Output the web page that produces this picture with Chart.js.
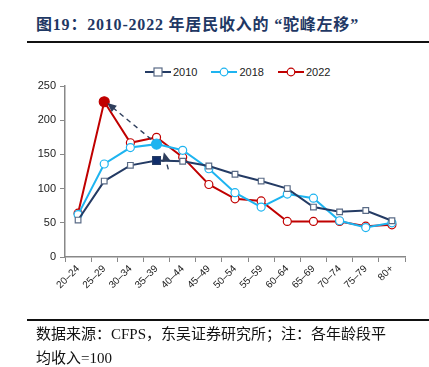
<!DOCTYPE html>
<html>
<head>
<meta charset="utf-8">
<script src="https://cdn.jsdelivr.net/npm/chart.js@4.4.1/dist/chart.umd.min.js"></script>
<style>
  html, body { margin: 0; padding: 0; background: #fff; }
  body { width: 429px; height: 367px; position: relative; overflow: hidden; }
  .title {
    position: absolute; left: 36px; top: 11px;
    font-family: "Liberation Serif", "Noto Sans CJK SC", serif;
    font-weight: bold; font-size: 16px; letter-spacing: 0.8px; color: #1F3864; white-space: nowrap;
  }
  .rule { position: absolute; left: 27px; right: 0; height: 2px; background: #111; }
  .legend {
    position: absolute; top: 66px; left: 145px;
    font-family: "Liberation Sans", Arial, sans-serif; font-size: 11px; color: #222;
    display: flex; gap: 14px; align-items: center;
  }
  .legend span { display: flex; align-items: center; }
  .legend canvas { margin-right: 2px; }
  .chart { position: absolute; left: 0; top: 62px; width: 429px; height: 255px; }
  .foot {
    position: absolute; left: 36px; top: 322px;
    font-family: "Liberation Serif", "Noto Sans CJK SC", serif;
    font-size: 15px; line-height: 24px; color: #111; white-space: nowrap;
  }
</style>
</head>
<body>
<div class="title">图19：2010-2022 年居民收入的 “驼峰左移”</div>
<div class="rule" style="top:41px"></div>
<div class="legend" id="legend"></div>
<div class="chart"><canvas id="c"></canvas></div>
<div class="rule" style="top:319px"></div>
<div class="foot">数据来源：CFPS，东吴证券研究所；注：各年龄段平<br>均收入=100</div>
<script>
const categories = ["20–24", "25–29", "30–34", "35–39", "40–44", "45–49", "50–54",
  "55–59", "60–64", "65–69", "70–74", "75–79", "80+"];
const seriesNames = ["2010", "2018", "2022"];
const income2010 = [54, 111, 134, 141, 140, 133, 121, 111, 100, 73, 66, 68, 53];
const income2018 = [62, 136, 160, 165, 156, 129, 94, 73, 92, 86, 53, 43, 50];
const income2022 = [64, 227, 167, 175, 146, 106, 85, 82, 52, 52, 52, 45, 47];
const peakIndex = [3, 3, 1];
const yTicks = [0, 50, 100, 150, 200, 250];
// dashed arrows, [category index, value]
const arrowFrom = [[2.8, 172], [3.45, 128]];
const arrowTo = [[1.12, 225], [3.28, 153]];

const colors = ["#243B64", "#1EB4F0", "#C00000"];
const markers = ["rect", "circle", "circle"];
const borders = ["#5A6B86", "#1EB4F0", "#C00000"];

function pointArr(n, idx, normal, peak) {
  return Array.from({ length: n }, (_, i) => (i === idx ? peak : normal));
}

const allData = [income2010, income2018, income2022];
const datasets = allData.map((d, k) => ({
  label: seriesNames[k],
  data: d,
  borderColor: colors[k],
  borderWidth: 2,
  pointStyle: markers[k],
  pointRadius: pointArr(d.length, peakIndex[k], 4, k === 0 ? 5.5 : 5),
  pointBorderWidth: 1.2,
  pointBorderColor: pointArr(d.length, peakIndex[k], borders[k], colors[k]),
  pointBackgroundColor: pointArr(d.length, peakIndex[k], "#fff", k === 0 ? "#0F2D6B" : colors[k]),
  tension: 0,
}));

// legend in html, drawn with small canvases
const legend = document.getElementById("legend");
seriesNames.forEach((name, k) => {
  const span = document.createElement("span");
  const cv = document.createElement("canvas");
  cv.width = 26; cv.height = 12;
  const g = cv.getContext("2d");
  g.strokeStyle = colors[k]; g.lineWidth = 2;
  g.beginPath(); g.moveTo(0, 6); g.lineTo(26, 6); g.stroke();
  g.fillStyle = "#fff"; g.strokeStyle = borders[k]; g.lineWidth = 1.2;
  if (k === 0) { g.fillRect(9, 2, 8, 8); g.strokeRect(9, 2, 8, 8); }
  else { g.beginPath(); g.arc(13, 6, 3.8, 0, Math.PI * 2); g.fill(); g.stroke(); }
  span.appendChild(cv);
  span.appendChild(document.createTextNode(name));
  legend.appendChild(span);
});

const arrows = {
  id: "arrows",
  afterDatasetsDraw(chart) {
    const { ctx, scales: { x, y } } = chart;
    ctx.save();
    ctx.strokeStyle = "#2E3E5C";
    ctx.fillStyle = "#2E3E5C";
    ctx.lineWidth = 1.4;
    arrowFrom.forEach((f, i) => {
      const t = arrowTo[i];
      const x0 = x.getPixelForValue(f[0]), y0 = y.getPixelForValue(f[1]);
      const x1 = x.getPixelForValue(t[0]), y1 = y.getPixelForValue(t[1]);
      const a = Math.atan2(y1 - y0, x1 - x0);
      ctx.setLineDash([5, 4]);
      ctx.beginPath();
      ctx.moveTo(x0, y0);
      ctx.lineTo(x1 - 7 * Math.cos(a), y1 - 7 * Math.sin(a));
      ctx.stroke();
      ctx.setLineDash([]);
      ctx.beginPath();
      ctx.moveTo(x1, y1);
      ctx.lineTo(x1 - 9 * Math.cos(a) + 4 * Math.sin(a), y1 - 9 * Math.sin(a) - 4 * Math.cos(a));
      ctx.lineTo(x1 - 9 * Math.cos(a) - 4 * Math.sin(a), y1 - 9 * Math.sin(a) + 4 * Math.cos(a));
      ctx.closePath();
      ctx.fill();
    });
    ctx.restore();
  },
};

new Chart(document.getElementById("c"), {
  type: "line",
  data: { labels: categories, datasets },
  plugins: [arrows],
  options: {
    responsive: true,
    maintainAspectRatio: false,
    animation: false,
    layout: { padding: { top: 24, right: 24, left: 0, bottom: 0 } },
    plugins: { legend: { display: false }, tooltip: { enabled: false } },
    scales: {
      x: {
        offset: true,
        afterFit: (s) => { s.height = 60; },
        grid: { offset: true, drawOnChartArea: false, drawTicks: true, tickLength: 5, color: "#888" },
        border: { color: "#888", width: 1.5 },
        ticks: {
          maxRotation: 45, minRotation: 45, autoSkip: false, padding: 1,
          color: "#222", font: { family: "Liberation Sans", size: 10 },
        },
      },
      y: {
        min: 0, max: 250,
        afterFit: (s) => { s.width = 65; },
        afterBuildTicks: (s) => { s.ticks = yTicks.map((v) => ({ value: v })); },
        grid: { drawOnChartArea: false, drawTicks: true, tickLength: 5, color: "#888" },
        border: { color: "#888", width: 1.5 },
        ticks: { color: "#222", padding: 4, font: { family: "Liberation Sans", size: 11 } },
      },
    },
  },
});
</script>
</body>
</html>
